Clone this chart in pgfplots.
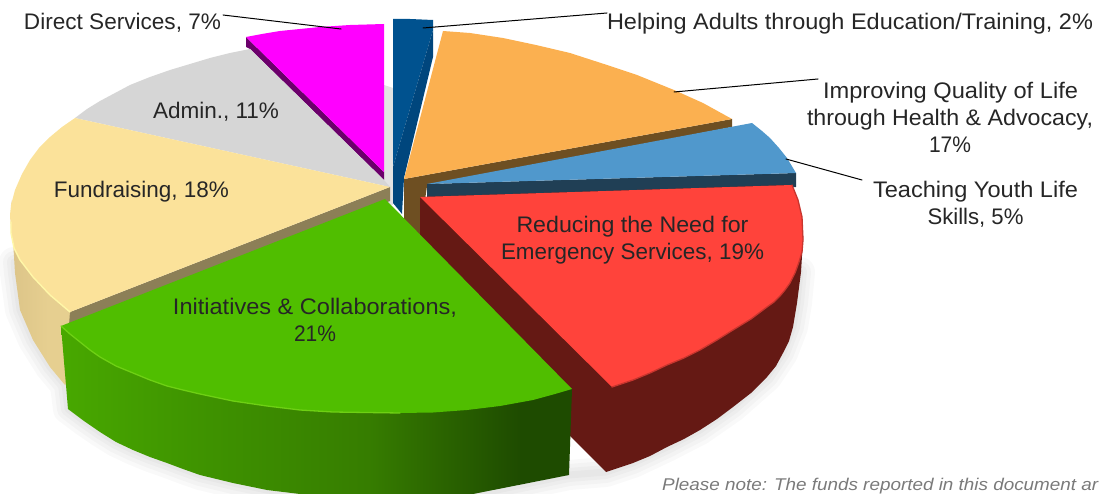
\documentclass[border=0pt]{standalone}
\usepackage{graphicx}
\usepackage{pgfplots}
\usepackage{fontspec}
\pgfplotsset{compat=1.18}
\setmainfont{Liberation Sans}
\definecolor{txt}{HTML}{262626}
\definecolor{g0}{HTML}{48A800}
\definecolor{g1}{HTML}{3F9400}
\definecolor{g2}{HTML}{367D00}
\definecolor{g3}{HTML}{2B6500}
\definecolor{g4}{HTML}{1E4B00}
\definecolor{tan0}{HTML}{DCC488}
\definecolor{tan1}{HTML}{E6CF90}
\definecolor{blue1}{HTML}{00528F}
\definecolor{blue2}{HTML}{00467D}
\definecolor{purp}{HTML}{6B006B}
\definecolor{mag}{HTML}{FF00FF}
\definecolor{adm}{HTML}{D6D6D6}
\definecolor{tanside2}{HTML}{8C7F57}
\definecolor{fund}{HTML}{FBE29A}
\definecolor{rimy}{HTML}{FFF7A8}
\definecolor{brown1}{HTML}{6E4F22}
\definecolor{oran}{HTML}{FBB050}
\definecolor{sky1}{HTML}{5098CC}
\definecolor{sky2}{HTML}{203F55}
\definecolor{red1}{HTML}{FF433B}
\definecolor{red2}{HTML}{651914}
\definecolor{red3}{HTML}{C8352E}
\definecolor{gre}{HTML}{50BE00}
\definecolor{greh}{HTML}{6ED014}
\pgfdeclarehorizontalshading{greenside}{100bp}{
  color(0bp)=(g0); color(25bp)=(g0); color(38bp)=(g1); color(55bp)=(g2);
  color(62bp)=(g3); color(70bp)=(g4); color(75bp)=(g4); color(100bp)=(g4)}
\pgfdeclarehorizontalshading{tanside}{100bp}{
  color(0bp)=(tan0); color(25bp)=(tan0); color(50bp)=(tan1); color(100bp)=(tan1)}
% shadow layers along the lower outline
\pgfplotstableread{
x y
14 262
15 273
20 310
33 340
50 367
65 385
68 409
84 421
100 432
116 442
133 450
150 457
167 463
183 469
200 475
233 483
267 490
300 494
473 495
569 475
606 472
633 463
667 447
700 430
733 407
767 377
783 353
793 327
797 303
800 272
}\shadowline
\begin{document}
\begin{tikzpicture}
\begin{axis}[
    scale only axis,
    width=1099pt,
    height=494pt,
    xmin=0, xmax=1099,
    ymin=0, ymax=494,
    y dir=reverse,
    hide axis,
    clip=false,
    no markers,
    every axis plot/.append style={line join=round, line cap=round},
]
% shadow behind the slices
\addplot[draw=black, line width=30pt, opacity=0.025] table {\shadowline};
\addplot[draw=black, line width=22pt, opacity=0.025] table {\shadowline};
\addplot[draw=black, line width=14pt, opacity=0.025] table {\shadowline};
\addplot[draw=black, line width=7pt, opacity=0.025] table {\shadowline};
\addplot[draw=none, fill=black!11] coordinates {(384,85) (393,88) (393,205) (384,205)} -- cycle;
% Helping Adults sliver
\addplot[draw=none, fill=blue1] coordinates {(393,19) (410,19) (433,20) (433,30) (393,167)} -- cycle;
\addplot[draw=none, fill=blue2] coordinates {(433,30) (433,57) (404,178) (402,214) (393,203) (393,167)} -- cycle;
% Direct Services
\addplot[draw=none, fill=purp] coordinates {(246,37) (246,47) (250,49) (384,180) (384,172)} -- cycle;
\addplot[draw=none, fill=mag] coordinates {(246,37) (262,34) (280,31) (300,29) (320,27) (350,25) (384,24) (384,172)} -- cycle;
% Admin
\addplot[draw=none, fill=adm] coordinates {(250,49) (230,53) (210,58) (190,64) (170,70) (150,77) (130,85) (115,93) (100,101) (87,109) (75,118) (390,187) (384,180)} -- cycle;
% Fundraising
\addplot[draw=none, shade, shading=tanside] coordinates {(11,200) (13,240) (15,273) (20,310) (33,340) (50,367) (65,385) (85,360) (85,330) (72,312) (50,295) (33,277) (20,260)} -- cycle;
\addplot[draw=none, fill=tanside2] coordinates {(70,312) (69,325) (390,201) (390,187)} -- cycle;
\addplot[draw=none, fill=fund] coordinates {(75,118) (62,127) (50,137) (39,148) (30,160) (22,174) (15,190) (11,205) (10,215) (11,233) (14,248) (20,260) (33,277) (50,295) (70,312) (390,187)} -- cycle;
\addplot[draw=rimy, line width=1.4pt] coordinates {(11,222) (11,233) (14,248) (20,260) (33,277) (50,295) (70,312)};
% Improving Quality
\addplot[draw=none, fill=brown1] coordinates {(404,179) (732,119) (732,127) (427,186) (420,235) (404,225)} -- cycle;
\addplot[draw=none, fill=oran] coordinates {(443,31) (470,33) (503,38) (536,45) (570,53) (604,64) (637,75) (674,90) (703,103) (732,119) (404,179)} -- cycle;
% Teaching Youth
\addplot[draw=none, fill=sky2] coordinates {(427,184) (796,173) (796,187) (427,198)} -- cycle;
\addplot[draw=none, fill=sky1] coordinates {(427,184) (752,123) (762,131) (770,138) (779,148) (787,158) (796,173)} -- cycle;
% Reducing the Need
\addplot[draw=none, fill=red2] coordinates {(420,197) (792,185) (803,235) (803,240) (801,272) (797,303) (793,327) (789,341) (783,353) (776,366) (767,377) (751,393) (733,407) (717,419) (700,430) (684,439) (667,447) (650,456) (633,463) (606,472) (420,286)} -- cycle;
\addplot[draw=none, fill=red1] coordinates {(420,197) (792,185) (798,200) (802,217) (803,240) (802,252) (799,262) (795,273) (790,283) (785,290) (780,296) (774,302) (767,307) (751,319) (733,330) (717,340) (700,350) (684,358) (667,365) (650,373) (633,380) (612,387)} -- cycle;
\addplot[draw=red3, line width=1.3pt] coordinates {(792,185) (798,200) (802,217) (803,240) (802,252) (799,262) (795,273) (790,283) (785,290) (780,296) (774,302) (767,307) (751,319) (733,330) (717,340) (700,350) (684,358) (667,365) (650,373) (633,380) (612,387)};
% Initiatives
\addplot[draw=none, shade, shading=greenside] coordinates {(61,326) (68,409) (84,421) (100,432) (116,442) (133,450) (150,457) (167,463) (183,469) (200,475) (233,483) (267,490) (300,494) (473,494) (569,475) (572,389)} -- cycle;
\addplot[draw=none, fill=gre] coordinates {(385,199) (61,326) (70,334) (80,342) (90,350) (100,357) (116,366) (133,373) (150,380) (167,386) (183,390) (200,394) (233,401) (267,406) (300,410) (333,412) (400,413) (433,412.5) (467,410) (500,406) (533,400) (555,394) (572,389)} -- cycle;
\addplot[draw=greh, line width=1.3pt] coordinates {(61,326) (70,334) (80,342) (90,350) (100,357) (116,366) (133,373) (150,380) (167,386) (183,390) (200,394) (233,401) (267,406) (300,410) (333,412) (400,413)};
% leader lines
\addplot[draw=black, line width=1pt] coordinates {(223,15) (341,29)};
\addplot[draw=black, line width=1pt] coordinates {(607,13) (423,28)};
\addplot[draw=black, line width=1pt] coordinates {(818,79) (674,92)};
\addplot[draw=black, line width=1pt] coordinates {(862,180) (786,159)};
% labels, each set to the width it has in the chart
\newcommand{\lab}[4]{\node[anchor=base, inner sep=0pt, text=txt, font=\fontsize{22.5}{26}\selectfont] at (axis cs:#1,#2) {\resizebox{#3pt}{\height}{#4}};}
\lab{122.5}{30}{197}{Direct Services, 7\%}
\lab{850}{30}{486}{Helping Adults through Education/Training, 2\%}
\lab{950.5}{99}{255}{Improving Quality of Life}
\lab{950}{126}{286}{through Health \& Advocacy,}
\lab{950}{153}{42}{17\%}
\lab{975.5}{198}{205}{Teaching Youth Life}
\lab{975.5}{225}{96}{Skills, 5\%}
\lab{216}{119}{126}{Admin., 11\%}
\lab{141.5}{198}{175}{Fundraising, 18\%}
\lab{632.5}{233}{232}{Reducing the Need for}
\lab{632.5}{260}{263}{Emergency Services, 19\%}
\lab{315}{314}{284}{Initiatives \& Collaborations,}
\lab{315}{341}{42}{21\%}
\node[anchor=base west, inner sep=0pt, text=black!52, font=\fontsize{17}{20}\selectfont\itshape] at (axis cs:662,490) {\resizebox{436pt}{\height}{Please note: The funds reported in this document ar}};
\end{axis}
\pgfresetboundingbox
\path[use as bounding box] (0,0) rectangle (1099pt,494pt);
\end{tikzpicture}
\end{document}
